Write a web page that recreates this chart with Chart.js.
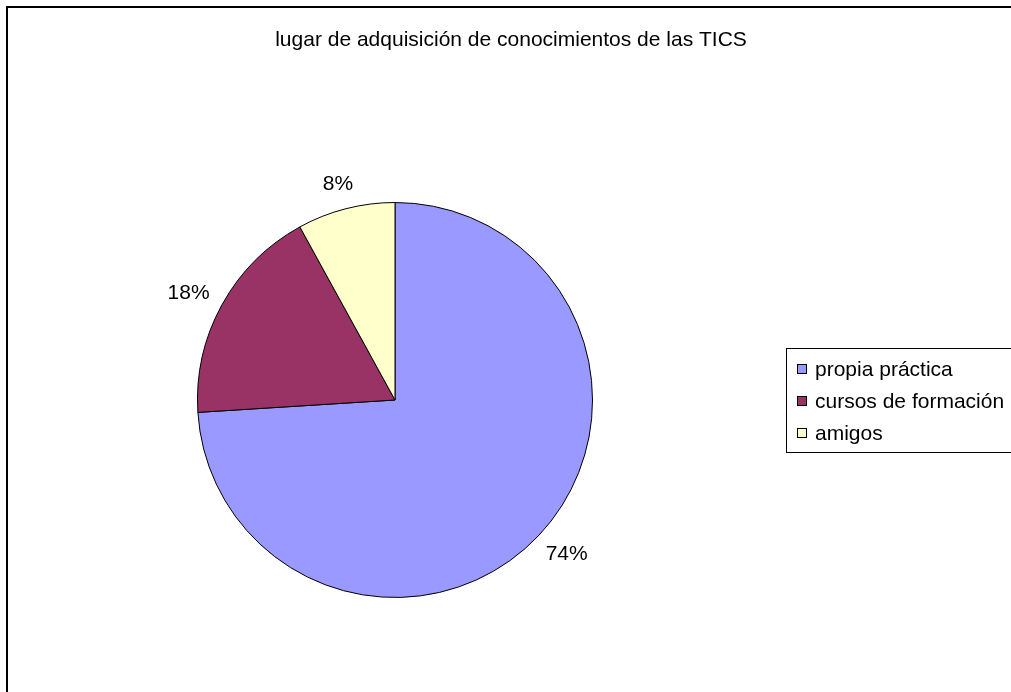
<!DOCTYPE html>
<html>
<head>
<meta charset="utf-8">
<script src="https://cdn.jsdelivr.net/npm/chart.js@4.4.0/dist/chart.umd.min.js"></script>
<style>
  html, body { margin: 0; padding: 0; background: #fff; }
  #wrap { position: relative; width: 1011px; height: 692px; }
</style>
</head>
<body>
<div id="wrap"><canvas id="chart"></canvas></div>
<script>
// data
const categories = ['propia práctica', 'cursos de formación', 'amigos'];
const percents = [74, 18, 8];
const colors = ['#9999FF', '#993366', '#FFFFCC'];
const chartTitle = 'lugar de adquisición de conocimientos de las TICS';

const FONT = '"Liberation Sans", Arial, sans-serif';

// frame, title, outside % labels and the boxed legend
const excelLook = {
    id: 'excelLook',
    afterDraw(chart) {
        const ctx = chart.ctx;
        ctx.save();

        // outer frame (runs off the right/bottom edge like the original)
        ctx.strokeStyle = '#000';
        ctx.lineWidth = 2;
        ctx.strokeRect(7, 7, 1100, 1000);

        // title
        ctx.fillStyle = '#000';
        ctx.font = '21px ' + FONT;
        ctx.textAlign = 'center';
        ctx.textBaseline = 'alphabetic';
        ctx.fillText(chartTitle, 511, 46);

        // percentage labels outside each slice, box edge kept off the rim
        const meta = chart.getDatasetMeta(0);
        ctx.textBaseline = 'middle';
        meta.data.forEach((arc, i) => {
            const p = arc.getProps(['x', 'y', 'startAngle', 'endAngle', 'outerRadius'], true);
            const mid = (p.startAngle + p.endAngle) / 2;
            const txt = percents[i] + '%';
            const hw = ctx.measureText(txt).width / 2;
            const r = p.outerRadius + 17;
            const cx = p.x + Math.cos(mid) * r + Math.cos(mid) * hw;
            const cy = p.y + Math.sin(mid) * r + Math.sin(mid) * 9;
            ctx.fillText(txt, cx, cy + 1);
        });

        // legend box
        ctx.lineWidth = 1;
        ctx.strokeStyle = '#000';
        ctx.strokeRect(786.5, 348.5, 300, 104);
        ctx.textAlign = 'left';
        categories.forEach((c, i) => {
            const y = 369 + i * 32;
            ctx.fillStyle = colors[i];
            ctx.fillRect(797.5, y - 4.5, 9, 9);
            ctx.strokeRect(797.5, y - 4.5, 9, 9);
            ctx.fillStyle = '#000';
            ctx.fillText(c, 815, y + 1);
        });

        ctx.restore();
    }
};

new Chart(document.getElementById('chart'), {
    type: 'pie',
    data: {
        labels: categories,
        datasets: [{
            data: percents,
            backgroundColor: colors,
            borderColor: '#000',
            borderWidth: 1
        }]
    },
    options: {
        responsive: true,
        maintainAspectRatio: false,
        animation: false,
        layout: { padding: { left: 197, top: 202, right: 418, bottom: 94 } },
        plugins: {
            legend: { display: false },
            title: { display: false },
            tooltip: { enabled: false }
        }
    },
    plugins: [excelLook]
});
</script>
</body>
</html>
